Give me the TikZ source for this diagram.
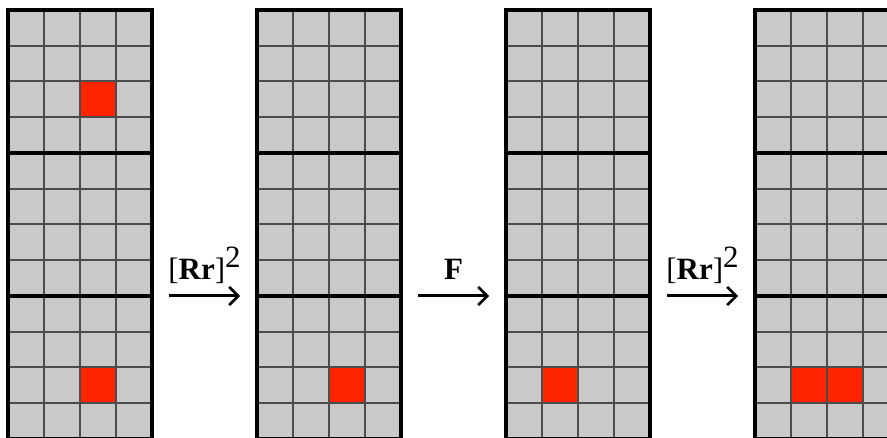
\documentclass[tikz,border=0pt]{standalone}
\usepackage{fontspec}
\setmainfont{Liberation Serif}
\usepackage{tikz}
\usetikzlibrary{arrows.meta,calc,positioning}
\definecolor{gridgray}{rgb}{0.79,0.79,0.79}
\definecolor{cellred}{rgb}{1.00,0.14,0.00}
\tikzset{
  bloque/.style={
    fill=gridgray,
    minimum width=144pt,
    minimum height=143pt,
    inner sep=0pt,
    outer sep=0pt
  },
  rejilla/.style={
    line width=2pt,
    draw=black!70
  },
  borde/.style={
    line width=3.6pt,
    draw=black
  },
  marca/.style={
    fill=cellred
  },
  arrow/.style={
    -{Straight Barb[length=9pt,width=18pt,line width=2.6pt]},
    line width=3pt,
    black,
    shorten <=17pt,
    shorten >=17pt
  },
  etiqueta/.style={
    font=\fontsize{31}{34}\selectfont,
    inner sep=0pt,
    anchor=base,
    yshift=16pt
  }
}
% celda roja: bloque, columna, fila
\newcommand{\marcar}[3]{
  \fill[marca] ($(#1.north west)+(#2*36,#3*35.75)$) rectangle +(36,35.75);
}

\begin{document}
\begin{tikzpicture}[x=1pt,y=-1pt,node distance=0pt]
\useasboundingbox (0,0) rectangle (887,438);
% columnas de bloques
\node[bloque,anchor=north west] (a1) at (8,10) {};
\node[bloque,below=of a1] (a2) {};
\node[bloque,below=of a2] (a3) {};
\node[bloque,anchor=north west] (b1) at (257,10) {};
\node[bloque,below=of b1] (b2) {};
\node[bloque,below=of b2] (b3) {};
\node[bloque,anchor=north west] (c1) at (506,10) {};
\node[bloque,below=of c1] (c2) {};
\node[bloque,below=of c2] (c3) {};
\node[bloque,anchor=north west] (d1) at (755,10) {};
\node[bloque,below=of d1] (d2) {};
\node[bloque,below=of d2] (d3) {};
% celdas marcadas
\marcar{a1}{2}{2}
\marcar{a3}{2}{2}
\marcar{b3}{2}{2}
\marcar{c3}{1}{2}
\marcar{d3}{1}{2}
\marcar{d3}{2}{2}
% lineas de la rejilla y bordes
\foreach \n in {a1,a2,a3,b1,b2,b3,c1,c2,c3,d1,d2,d3} {
  \foreach \i in {1,2,3} {
    \draw[rejilla] ($(\n.north west)!\i/4!(\n.north east)$) -- ($(\n.south west)!\i/4!(\n.south east)$);
    \draw[rejilla] ($(\n.north west)!\i/4!(\n.south west)$) -- ($(\n.north east)!\i/4!(\n.south east)$);
  }
  \draw[borde] (\n.north west) rectangle (\n.south east);
}
% flechas
\draw[arrow] (a3.north east) -- (b3.north west)
  node[midway,etiqueta] {[\textbf{Rr}]\raisebox{.4em}{2}};
\draw[arrow] (b3.north east) -- (c3.north west)
  node[midway,etiqueta] {\textbf{F}};
\draw[arrow] (c3.north east) -- (d3.north west)
  node[midway,etiqueta] {[\textbf{Rr}]\raisebox{.4em}{2}};
\end{tikzpicture}
\end{document}
